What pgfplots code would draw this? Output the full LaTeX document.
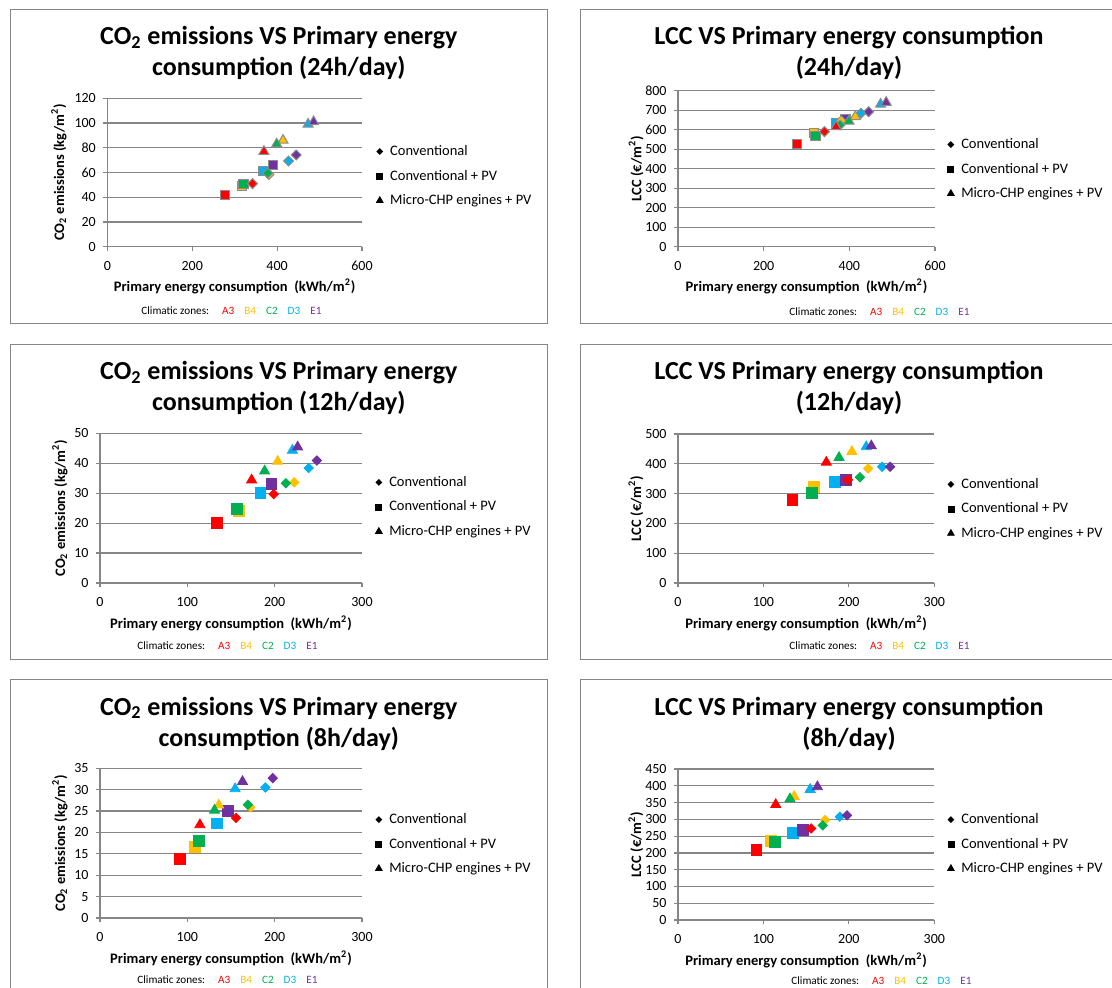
\documentclass[border=0pt]{standalone}
\usepackage{pgfplots}
\pgfplotsset{compat=1.18}
\usepackage{fontspec}
\setmainfont{Carlito}
\definecolor{zA}{HTML}{FF0000}
\definecolor{zB}{HTML}{FFC000}
\definecolor{zC}{HTML}{00B050}
\definecolor{zD}{HTML}{00B0F0}
\definecolor{zE}{HTML}{7030A0}
\definecolor{axgray}{HTML}{868686}
\definecolor{mkgray}{HTML}{8C8C8C}

\pgfplotsset{
  legend image code/.code={\path (-2pt,0pt) (4pt,0pt); \draw[#1] plot coordinates {(0pt,0pt)};},
  panel/.style={
    scale only axis, clip=false,
    axis x line=bottom, axis y line=left,
    axis line style={axgray, line width=0.6pt, -},
    major tick style={axgray, line width=0.6pt},
    tick align=outside, major tick length=2.2pt,
    ymajorgrids, grid style={axgray, line width=0.6pt},
    tick label style={font=\fontsize{7}{8}\selectfont},
    xticklabel style={yshift=-1.5pt},
    /pgf/number format/assume math mode=true,
    label style={font=\bfseries\fontsize{7.25}{8.5}\selectfont},
    xlabel={Primary energy consumption\hspace{3.3pt}(kWh/m\textsuperscript{2})},
    legend style={draw=none, fill=none, anchor=west, inner sep=0pt, row sep=3.25pt,
      font=\fontsize{7.25}{8.5}\selectfont,
      nodes={inner sep=1pt, text height=5.5pt, text depth=1.5pt}},
    legend cell align=left,
  },
  sq/.style={only marks, mark=square*, mark size=2.7pt, forget plot},
  dm/.style={only marks, mark=square*, mark size=1.65pt, mark options={rotate=45}, forget plot},
  tr/.style={only marks, mark=triangle*, mark size=2.9pt, forget plot},
  sqb/.style={sq, mark size=2.3pt, draw=mkgray, line width=0.5pt},
  dmb/.style={dm, mark size=1.75pt, draw=mkgray, line width=0.5pt},
  trb/.style={tr, mark size=2.9pt, draw=mkgray, line width=0.5pt},
}
\newcommand{\pt}[4]{\addplot[color=#2, #1] coordinates {(#3,#4)};}
\newcommand{\legendbits}{%
  \addlegendimage{only marks, mark=square*, mark options={rotate=45}, mark size=1.0pt, black}
  \addlegendentry{Conventional}
  \addlegendimage{only marks, mark=square*, mark size=1.5pt, black}
  \addlegendentry{Conventional + PV}
  \addlegendimage{only marks, mark=triangle*, mark size=1.9pt, black}
  \addlegendentry{Micro-CHP engines + PV}}
\newcommand{\zones}{Climatic zones:\hspace{6.5pt}\textcolor{zA}{A3}\hspace{5pt}\textcolor{zB}{B4}\hspace{5pt}\textcolor{zC}{C2}\hspace{5pt}\textcolor{zD}{D3}\hspace{5pt}\textcolor{zE}{E1}}

\begin{document}
\begin{tikzpicture}
\path[use as bounding box] (0pt,0pt) rectangle (556pt,-494pt);

\begin{scope}[x=0.5pt,y=-0.5pt]
  % panel frames
  \draw[axgray, line width=0.5pt] (10.3,9.3) rectangle (547.3,323.3);
  \draw[axgray, line width=0.5pt] (580.7,9.3) rectangle (1117,323.3);
  \draw[axgray, line width=0.5pt] (10.3,344.3) rectangle (547.3,659);
  \draw[axgray, line width=0.5pt] (580.7,344.3) rectangle (1117,659);
  \draw[axgray, line width=0.5pt] (10.3,679.3) rectangle (547.3,1000);
  \draw[axgray, line width=0.5pt] (580.7,679.3) rectangle (1117,1000);
  % titles
  \tikzset{ttl/.style={font=\bfseries\fontsize{13}{15}\selectfont, anchor=base, inner sep=0pt}}
  \node[ttl] at (278.8,45) {CO\textsubscript{2} emissions VS Primary energy};
  \node[ttl] at (278.8,76) {consumption (24h/day)};
  \node[ttl] at (849,45) {LCC VS Primary energy consumption};
  \node[ttl] at (849,76) {(24h/day)};
  \node[ttl] at (278.8,380) {CO\textsubscript{2} emissions VS Primary energy};
  \node[ttl] at (278.8,411) {consumption (12h/day)};
  \node[ttl] at (849,380) {LCC VS Primary energy consumption};
  \node[ttl] at (849,411) {(12h/day)};
  \node[ttl] at (278.8,715) {CO\textsubscript{2} emissions VS Primary energy};
  \node[ttl] at (278.8,746) {consumption (8h/day)};
  \node[ttl] at (849,715) {LCC VS Primary energy consumption};
  \node[ttl] at (849,746) {(8h/day)};
  % climatic zones
  \tikzset{zn/.style={font=\fontsize{5.6}{7}\selectfont, anchor=west, inner sep=0pt}}
  \node[zn] at (141,311) {\zones};
  \node[zn] at (789,312) {\zones};
  \node[zn] at (137,646) {\zones};
  \node[zn] at (789,646) {\zones};
  \node[zn] at (137,980) {\zones};
  \node[zn] at (791,981) {\zones};
\end{scope}

% ---------- P1: CO2 24h ----------
\begin{axis}[panel, at={(53.65pt,-123.35pt)}, anchor=south west,
  width=127.35pt, height=74.2pt,
  xmin=0, xmax=600, xtick={0,200,400,600},
  ymin=0, ymax=120, ytick={0,20,...,120},
  ylabel={CO\textsubscript{2} emissions (kg/m\textsuperscript{2})},
  ylabel style={at={(axis description cs:-0.19,0.5)}, anchor=center},
  xlabel style={at={(axis description cs:0.5,-0.27)}, anchor=center},
  legend style={at={(axis description cs:1.051,0.476)}}]
\legendbits
\pt{sqb}{zA}{277}{41.8}
\pt{sqb}{zB}{318}{49.2}
\pt{sqb}{zC}{321}{50.8}
\pt{sqb}{zD}{368}{61.5}
\pt{sqb}{zE}{391}{66}
\pt{dmb}{zA}{342}{51}
\pt{dmb}{zB}{381}{58.4}
\pt{dmb}{zC}{378}{59.5}
\pt{dmb}{zD}{427}{69.3}
\pt{dmb}{zE}{445}{74.2}
\pt{trb}{zA}{369}{77}
\pt{trb}{zB}{414}{86}
\pt{trb}{zC}{399}{83}
\pt{trb}{zD}{473}{99}
\pt{trb}{zE}{486}{101}
\end{axis}

% ---------- P2: LCC 24h ----------
\begin{axis}[panel, at={(339pt,-123.35pt)}, anchor=south west,
  width=128.5pt, height=78pt,
  xmin=0, xmax=600, xtick={0,200,400,600},
  ymin=0, ymax=800, ytick={0,100,...,800},
  ylabel={LCC (€/m\textsuperscript{2})},
  ylabel style={at={(axis description cs:-0.163,0.5)}, anchor=center},
  xlabel style={at={(axis description cs:0.5,-0.256)}, anchor=center},
  legend style={at={(axis description cs:1.043,0.498)}}]
\legendbits
\pt{sqb}{zA}{277}{525}
\pt{sqb}{zB}{318}{581}
\pt{sqb}{zC}{321}{567}
\pt{sqb}{zD}{368}{636}
\pt{sqb}{zE}{391}{653}
\pt{dmb}{zA}{342}{590}
\pt{dmb}{zB}{381}{646}
\pt{dmb}{zC}{378}{624}
\pt{dmb}{zD}{427}{684}
\pt{dmb}{zE}{445}{692}
\pt{trb}{zA}{369}{615}
\pt{trb}{zB}{414}{667}
\pt{trb}{zC}{399}{644}
\pt{trb}{zD}{473}{730}
\pt{trb}{zE}{486}{740}
\end{axis}

% ---------- P3: CO2 12h ----------
\begin{axis}[panel, at={(50pt,-291.5pt)}, anchor=south west,
  width=131pt, height=74.85pt,
  xmin=0, xmax=300, xtick={0,100,200,300},
  ymin=0, ymax=50, ytick={0,10,...,50},
  ylabel={CO\textsubscript{2} emissions (kg/m\textsuperscript{2})},
  ylabel style={at={(axis description cs:-0.153,0.5)}, anchor=center},
  xlabel style={at={(axis description cs:0.5,-0.267)}, anchor=center},
  legend style={at={(axis description cs:1.046,0.508)}}]
\legendbits
\pt{sq}{zA}{134}{20.0}
\pt{sq}{zB}{159}{24.2}
\pt{sq}{zC}{157}{24.7}
\pt{sq}{zD}{183.7}{30.2}
\pt{sq}{zE}{196.3}{33.2}
\pt{dm}{zA}{198.9}{29.7}
\pt{dm}{zB}{222.5}{33.6}
\pt{dm}{zC}{212.9}{33.3}
\pt{dm}{zD}{239}{38.4}
\pt{dm}{zE}{248.3}{40.9}
\pt{tr}{zA}{173.6}{34.4}
\pt{tr}{zB}{203.5}{40.6}
\pt{tr}{zC}{188.5}{37.4}
\pt{tr}{zD}{220.3}{44.3}
\pt{tr}{zE}{226.3}{45.4}
\end{axis}

% ---------- P4: LCC 12h ----------
\begin{axis}[panel, at={(339pt,-291.5pt)}, anchor=south west,
  width=128.15pt, height=74.5pt,
  xmin=0, xmax=300, xtick={0,100,200,300},
  ymin=0, ymax=500, ytick={0,100,...,500},
  ylabel={LCC (€/m\textsuperscript{2})},
  ylabel style={at={(axis description cs:-0.164,0.5)}, anchor=center},
  xlabel style={at={(axis description cs:0.5,-0.268)}, anchor=center},
  legend style={at={(axis description cs:1.046,0.497)}}]
\legendbits
\pt{sq}{zA}{134}{278.5}
\pt{sq}{zB}{159}{323}
\pt{sq}{zC}{157}{303}
\pt{sq}{zD}{183.7}{339}
\pt{sq}{zE}{196.3}{346}
\pt{dm}{zA}{198.9}{346}
\pt{dm}{zB}{222.5}{384}
\pt{dm}{zC}{212.9}{355}
\pt{dm}{zD}{239}{390}
\pt{dm}{zE}{248.3}{390}
\pt{tr}{zA}{173.6}{405}
\pt{tr}{zB}{203.5}{441}
\pt{tr}{zC}{188.5}{421}
\pt{tr}{zD}{220.3}{457}
\pt{tr}{zE}{226.3}{460}
\end{axis}

% ---------- P5: CO2 8h ----------
\begin{axis}[panel, at={(50pt,-459pt)}, anchor=south west,
  width=131pt, height=74.85pt,
  xmin=0, xmax=300, xtick={0,100,200,300},
  ymin=0, ymax=35, ytick={0,5,...,35},
  ylabel={CO\textsubscript{2} emissions (kg/m\textsuperscript{2})},
  ylabel style={at={(axis description cs:-0.153,0.5)}, anchor=center},
  xlabel style={at={(axis description cs:0.5,-0.267)}, anchor=center},
  legend style={at={(axis description cs:1.046,0.494)}}]
\legendbits
\pt{sq}{zA}{91.8}{13.8}
\pt{sq}{zB}{108.9}{16.7}
\pt{sq}{zC}{113.3}{18.1}
\pt{sq}{zD}{134.1}{22.1}
\pt{sq}{zE}{146.2}{25.0}
\pt{dm}{zA}{155.8}{23.4}
\pt{dm}{zB}{172.3}{25.9}
\pt{dm}{zC}{169.3}{26.5}
\pt{dm}{zD}{189.4}{30.5}
\pt{dm}{zE}{197.9}{32.7}
\pt{tr}{zA}{114.4}{21.8}
\pt{tr}{zB}{136}{26.4}
\pt{tr}{zC}{131.1}{25.2}
\pt{tr}{zD}{154.7}{30.2}
\pt{tr}{zE}{163.2}{31.9}
\end{axis}

% ---------- P6: LCC 8h ----------
\begin{axis}[panel, at={(339pt,-460pt)}, anchor=south west,
  width=128.15pt, height=75.5pt,
  xmin=0, xmax=300, xtick={0,100,200,300},
  ymin=0, ymax=450, ytick={0,50,...,450},
  ylabel={LCC (€/m\textsuperscript{2})},
  ylabel style={at={(axis description cs:-0.164,0.5)}, anchor=center},
  xlabel style={at={(axis description cs:0.5,-0.265)}, anchor=center},
  legend style={at={(axis description cs:1.046,0.503)}}]
\legendbits
\pt{sq}{zA}{91.8}{208.6}
\pt{sq}{zB}{108.9}{236}
\pt{sq}{zC}{113.3}{233.5}
\pt{sq}{zD}{134.1}{260}
\pt{sq}{zE}{146.2}{268}
\pt{dm}{zA}{155.8}{273}
\pt{dm}{zB}{172.3}{298}
\pt{dm}{zC}{169.3}{282}
\pt{dm}{zD}{189.4}{308}
\pt{dm}{zE}{197.9}{312}
\pt{tr}{zA}{114.4}{344}
\pt{tr}{zB}{136}{368}
\pt{tr}{zC}{131.1}{361}
\pt{tr}{zD}{154.7}{389}
\pt{tr}{zE}{163.2}{397}
\end{axis}
\end{tikzpicture}
\end{document}
